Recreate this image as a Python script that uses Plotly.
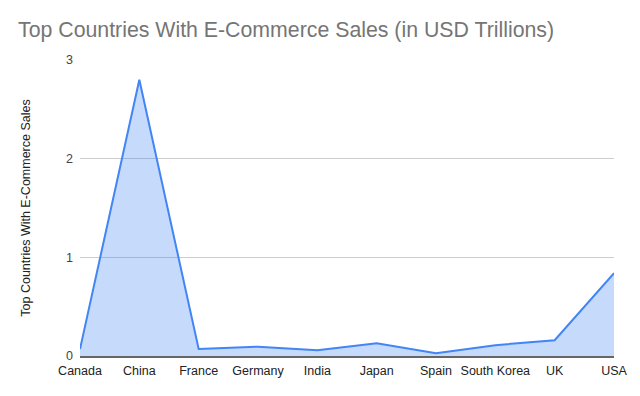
import plotly.graph_objects as go

countries = ["Canada", "China", "France", "Germany", "India", "Japan", "Spain", "South Korea", "UK", "USA"]
sales = [0.07, 2.80, 0.07, 0.095, 0.058, 0.13, 0.027, 0.11, 0.16, 0.84]
y_ticks = [0, 1, 2, 3]

fig = go.Figure()
fig.add_trace(go.Scatter(
    x=countries, y=sales, mode="lines", fill="tozeroy",
    line=dict(color="#4285f4", width=2),
    fillcolor="rgba(66,133,244,0.3)",
    hoverinfo="x+y",
))

fig.update_layout(
    width=640, height=396,
    margin=dict(l=80, r=20, t=60, b=40),
    paper_bgcolor="white", plot_bgcolor="white",
    font=dict(family="Liberation Sans, Arial, sans-serif", size=12, color="#444"),
    title=dict(text="Top Countries With E-Commerce Sales (in USD Trillions)",
               x=18/640, xanchor="left", y=1-30/396, yanchor="middle",
               font=dict(size=21.3, color="#757575")),
    showlegend=False,
    xaxis=dict(
        type="category", range=[0, 9], showgrid=False,
        showline=True, linecolor="#666", linewidth=2,
        ticks="", tickfont=dict(size=12.5, color="#222"),
        ticklabelstandoff=2,
        fixedrange=True,
    ),
    yaxis=dict(
        range=[0, 3], tickvals=y_ticks, showgrid=True, gridcolor="#ccc", gridwidth=1,
        zeroline=False, showline=False, ticks="",
        tickfont=dict(size=12.5, color="#444"),
        ticklabelstandoff=6,
        title=dict(text="Top Countries With E-Commerce Sales", font=dict(size=12.5, color="#222"),
                   standoff=32),
    ),
)

fig.write_html("out.html")
